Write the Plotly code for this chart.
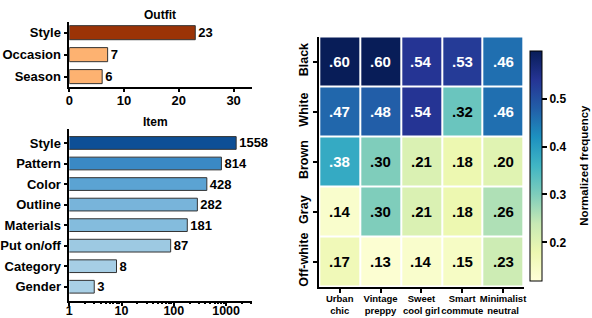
import plotly.graph_objects as go
import plotly.express as px

W, H = 592, 318

# ---------------- data ----------------
outfit_labels = ["Style", "Occasion", "Season"]
outfit_values = [23, 7, 6]
outfit_colors = ["#9b3306", "#fdb271", "#fdb271"]

item_labels = ["Style", "Pattern", "Color", "Outline", "Materials", "Put on/off", "Category", "Gender"]
item_values = [1558, 814, 428, 282, 181, 87, 8, 3]
item_colors = ["#0d4f96", "#3a89c5", "#5ba3d3", "#78b4da", "#84bcdd", "#9dc9e2", "#a6cee5", "#a9d0e6"]

heat_cols = ["Urban<br>chic", "Vintage<br>preppy", "Sweet<br>cool girl", "Smart<br>commute", "Minimalist<br>neutral"]
heat_rows = ["Black", "White", "Brown", "Gray", "Off-white"]
heat_vals = [
    [0.60, 0.60, 0.54, 0.53, 0.46],
    [0.47, 0.48, 0.54, 0.32, 0.46],
    [0.38, 0.30, 0.21, 0.18, 0.20],
    [0.14, 0.30, 0.21, 0.18, 0.26],
    [0.17, 0.13, 0.14, 0.15, 0.23],
]
cbar_ticks = [0.2, 0.3, 0.4, 0.5]

# ---------------- helpers ----------------
def fx(p):
    return p / W

def fy(p):
    return 1 - p / H

FAM = "Liberation Sans, Arial, sans-serif"
def bf(size, color="black"):
    return dict(family=FAM, size=size, color=color, weight="bold")

fig = go.Figure()

# Outfit bars
fig.add_trace(go.Bar(
    x=outfit_values, y=outfit_labels, orientation="h",
    marker=dict(color=outfit_colors, line=dict(color="#333333", width=1)),
    width=0.64, text=[str(v) for v in outfit_values], textposition="outside",
    constraintext="none", textfont=bf(13), cliponaxis=False,
    xaxis="x", yaxis="y", showlegend=False, hoverinfo="skip",
))

# Item bars
fig.add_trace(go.Bar(
    x=item_values, y=item_labels, orientation="h",
    marker=dict(color=item_colors, line=dict(color="#333333", width=1)),
    width=0.62, text=[str(v) for v in item_values], textposition="outside",
    constraintext="none", textfont=bf(13), cliponaxis=False,
    xaxis="x2", yaxis="y2", showlegend=False, hoverinfo="skip",
))

# Heatmap
ylgnbu = px.colors.sequential.YlGnBu
cs = [[i / (len(ylgnbu) - 1), c] for i, c in enumerate(ylgnbu)]
fig.add_trace(go.Heatmap(
    z=heat_vals, x=heat_cols, y=heat_rows, colorscale=cs, zmin=0.12, zmax=0.60,
    xgap=2, ygap=2, xaxis="x3", yaxis="y3",
    colorbar=dict(
        x=fx(530), xanchor="left", y=fy(165.7), yanchor="middle",
        len=230 / H, lenmode="fraction", thickness=12, thicknessmode="pixels",
        outlinewidth=1, outlinecolor="black", xpad=0, ypad=0,
        tickvals=cbar_ticks, ticktext=[f"{t:.1f}" for t in cbar_ticks],
        ticks="outside", ticklen=5, tickwidth=1.5, tickcolor="black", tickfont=bf(12),
    ),
    hoverinfo="skip",
))

annotations = []
for i, r in enumerate(heat_rows):
    for j, c in enumerate(heat_cols):
        v = heat_vals[i][j]
        annotations.append(dict(
            x=c, y=r, xref="x3", yref="y3", text=f"{v:.2f}"[1:], showarrow=False,
            font=bf(15, "white" if v >= 0.35 else "black"),
        ))

annotations.append(dict(x=fx(160), y=fy(15), xref="paper", yref="paper", text="Outfit",
                        showarrow=False, font=bf(12), xanchor="center", yanchor="middle"))
annotations.append(dict(x=fx(156), y=fy(122), xref="paper", yref="paper", text="Item",
                        showarrow=False, font=bf(12), xanchor="center", yanchor="middle"))
annotations.append(dict(x=fx(584), y=fy(165.7), xref="paper", yref="paper",
                        text="Normalized frequency", textangle=-90, showarrow=False,
                        font=bf(11.5), xanchor="center", yanchor="middle"))

axis_common = dict(showline=True, linecolor="black", linewidth=1.5, ticks="outside",
                   ticklen=4, tickwidth=1.5, tickcolor="black", showgrid=False, zeroline=False,
                   tickfont=bf(13), automargin=False)

fig.update_layout(
    width=W, height=H, margin=dict(l=0, r=0, t=0, b=0),
    paper_bgcolor="white", plot_bgcolor="white",
    font=dict(family=FAM, color="black", weight="bold"),
    annotations=annotations,
    xaxis=dict(domain=[fx(69.3), fx(251.7)], range=[0, 33.3], tickvals=[0, 10, 20, 30],
               anchor="y", ticklabelstandoff=-3, **axis_common),
    yaxis=dict(domain=[fy(86.5), fy(21.7)], type="category", categoryorder="array",
               categoryarray=outfit_labels, range=[2.45, -0.5], anchor="x", **axis_common),
    xaxis2=dict(domain=[fx(69.3), fx(251.7)], type="log", range=[0, 3.49],
                tickvals=[1, 10, 100, 1000], ticktext=["1", "10", "100", "1000"],
                minor=dict(ticks="outside", ticklen=2, tickcolor="black",
                           tickvals=[m * 10 ** e for e in range(0, 4) for m in range(2, 10) if m * 10 ** e < 3100]),
                anchor="y2", ticklabelstandoff=-6,
                **{**axis_common, "tickfont": bf(12.5)}),
    yaxis2=dict(domain=[fy(300.7), fy(129)], type="category", categoryorder="array",
                categoryarray=item_labels, range=[7.68, -0.68], anchor="x2", **axis_common),
    xaxis3=dict(domain=[fx(319.3), fx(523.5)], type="category", anchor="y3", tickangle=0,
                ticklabelstandoff=-3,
                **{**axis_common, "tickfont": bf(9.5), "ticklen": 5}),
    yaxis3=dict(domain=[fy(286.5), fy(36.5)], type="category", autorange="reversed",
                anchor="x3", tickangle=-90,
                **{**axis_common, "tickfont": bf(12.5), "ticklen": 5}),
)

fig.write_html("out.html", config={"displayModeBar": False},
               post_script="document.body.style.margin='0px';")
